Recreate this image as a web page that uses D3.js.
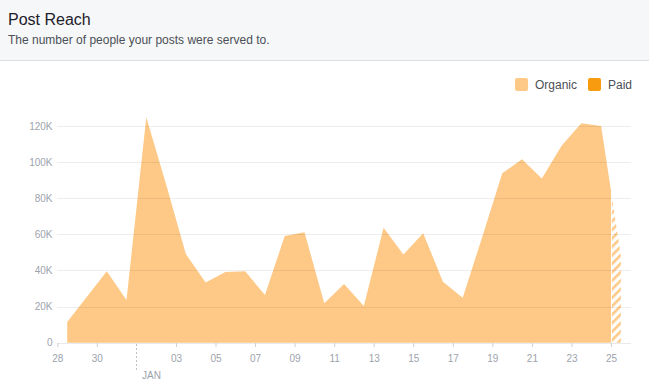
<!DOCTYPE html>
<html>
<head>
<meta charset="utf-8">
<script src="https://cdn.jsdelivr.net/npm/d3@7"></script>
<style>
  html, body { margin: 0; padding: 0; background: #fff; }
  body { width: 649px; height: 381px; overflow: hidden; font-family: "Liberation Sans", Arial, sans-serif; }
</style>
</head>
<body>
<div id="chart"></div>
<script>
// days shown on the chart (one value per day)
const days = [
  "2017-12-28", "2017-12-29", "2017-12-30", "2017-12-31",
  "2018-01-01", "2018-01-02", "2018-01-03", "2018-01-04", "2018-01-05",
  "2018-01-06", "2018-01-07", "2018-01-08", "2018-01-09", "2018-01-10",
  "2018-01-11", "2018-01-12", "2018-01-13", "2018-01-14", "2018-01-15",
  "2018-01-16", "2018-01-17", "2018-01-18", "2018-01-19", "2018-01-20",
  "2018-01-21", "2018-01-22", "2018-01-23", "2018-01-24", "2018-01-25"
];
// reach, people per day
const organic = [
  11500, 25500, 39500, 23700,
  124900, 87800, 49100, 33300, 39200,
  39500, 26400, 59100, 61100, 21800,
  32500, 20300, 63700, 48800, 60600,
  33800, 24900, 59000, 93800, 101600,
  90900, 109000, 121500, 120000, 48000
];
const paid = days.map(() => 0);
const yTicks = [0, 20000, 40000, 60000, 80000, 100000, 120000];
const xTickDays = ["2017-12-28", "2017-12-30", "2018-01-03", "2018-01-05", "2018-01-07",
  "2018-01-09", "2018-01-11", "2018-01-13", "2018-01-15", "2018-01-17",
  "2018-01-19", "2018-01-21", "2018-01-23", "2018-01-25"];
const monthStart = "2018-01-01";
const partialFrom = "2018-01-25"; // last day is still incomplete

const seriesNames = ["Organic", "Paid"];
const colors = { Organic: "#fec987", Paid: "#f89b0e" };

const W = 649, H = 381;
const parse = d3.utcParse("%Y-%m-%d");

const svg = d3.select("#chart").append("svg")
  .attr("width", W).attr("height", H);

// header
svg.append("rect").attr("width", W).attr("height", 60).attr("fill", "#f6f7f9");
svg.append("line").attr("x1", 0).attr("x2", W).attr("y1", 60.5).attr("y2", 60.5)
  .attr("stroke", "#dddfe2");
svg.append("text").attr("x", 8).attr("y", 25)
  .attr("font-size", 16).attr("fill", "#1d2129").text("Post Reach");
svg.append("text").attr("x", 8).attr("y", 44)
  .attr("font-size", 12).attr("fill", "#4b4f56").text("The number of people your posts were served to.");

// scales
const x = d3.scaleUtc()
  .domain([parse(days[0]), d3.utcDay.offset(parse(days[days.length - 1]), 1)])
  .range([57.3, 630.8]);
const y = d3.scaleLinear().domain([0, 120000]).range([342.7, 126]);

const rows = days.map((d, i) => ({ date: parse(d), Organic: organic[i], Paid: paid[i] }));
const stacked = d3.stack().keys(seriesNames)(rows);
const mid = d => d3.utcHour.offset(d, 12);

const defs = svg.append("defs");
const pat = defs.append("pattern").attr("id", "hatch")
  .attr("patternUnits", "userSpaceOnUse").attr("width", 6).attr("height", 6)
  .attr("patternTransform", "rotate(45)");
pat.append("rect").attr("width", 6).attr("height", 6).attr("fill", "#fff");
pat.append("rect").attr("width", 2.6).attr("height", 6).attr("fill", colors.Organic);

const cut = x(parse(partialFrom));
defs.append("clipPath").attr("id", "full")
  .append("rect").attr("x", 0).attr("y", 0).attr("width", cut).attr("height", H);
defs.append("clipPath").attr("id", "part")
  .append("rect").attr("x", cut + 0.8).attr("y", 0).attr("width", W - cut).attr("height", H);

const area = d3.area()
  .x(d => x(mid(d.data.date)))
  .y0(d => y(d[0]))
  .y1(d => y(d[1]));

// series areas: solid up to the last full day, hatched afterwards
stacked.forEach(s => {
  svg.append("path").datum(s)
    .attr("clip-path", "url(#full)")
    .attr("fill", colors[s.key])
    .attr("d", area);
  svg.append("path").datum(s)
    .attr("clip-path", "url(#part)")
    .attr("fill", s.key === "Organic" ? "url(#hatch)" : colors[s.key])
    .attr("d", area);
});

// grid lines drawn above the area, very faint
svg.append("g").selectAll("line").data(yTicks.slice(1)).join("line")
  .attr("x1", 57).attr("x2", 631)
  .attr("y1", d => Math.round(y(d)) + 0.5).attr("y2", d => Math.round(y(d)) + 0.5)
  .attr("stroke", "#000").attr("stroke-opacity", 0.07);

// y labels
svg.append("g").selectAll("text").data(yTicks).join("text")
  .attr("x", 52.5).attr("y", d => y(d)).attr("dy", "0.35em")
  .attr("text-anchor", "end").attr("font-size", 10).attr("fill", "#9da3ad")
  .text(d => d === 0 ? "0" : d3.format("d")(d / 1000) + "K");

// x axis
const xAxis = svg.append("g").attr("transform", "translate(0,343)")
  .call(d3.axisBottom(x)
    .tickValues(xTickDays.map(parse))
    .tickFormat(d3.utcFormat("%d"))
    .tickSize(4).tickPadding(8));
xAxis.select(".domain").attr("d", `M57,0.5H631`).attr("stroke", "#e9eaed");
xAxis.selectAll(".tick line").attr("stroke", "#ccd0d5");
xAxis.selectAll(".tick text").attr("fill", "#9da3ad").attr("font-size", 10)
  .attr("font-family", "Liberation Sans, Arial, sans-serif");

// month divider
const mx = Math.round(x(parse(monthStart))) + 0.5;
svg.append("line").attr("x1", mx).attr("x2", mx).attr("y1", 344).attr("y2", 371)
  .attr("stroke", "#bec3c9").attr("stroke-dasharray", "2,2");
svg.append("text").attr("x", mx + 5.5).attr("y", 379)
  .attr("font-size", 10).attr("fill", "#9da3ad")
  .text(d3.utcFormat("%b")(parse(monthStart)).toUpperCase());

// legend
const legend = svg.append("g").attr("transform", "translate(515,78)");
const lx = [0, 73];
seriesNames.forEach((n, i) => {
  const g = legend.append("g").attr("transform", `translate(${lx[i]},0)`);
  g.append("rect").attr("width", 13).attr("height", 13).attr("rx", 2).attr("fill", colors[n]);
  g.append("text").attr("x", 20).attr("y", 11).attr("font-size", 12)
    .attr("fill", "#4b4f56").text(n);
});
</script>
</body>
</html>
